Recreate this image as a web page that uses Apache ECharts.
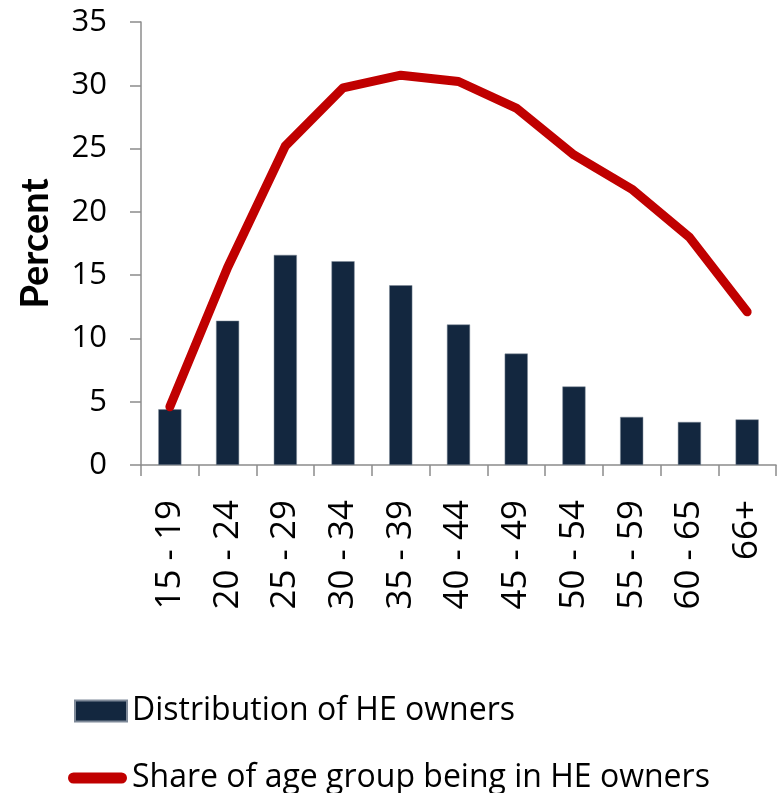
<!DOCTYPE html>
<html>
<head>
<meta charset="utf-8">
<script src="https://cdn.jsdelivr.net/npm/echarts@6/dist/echarts.min.js"></script>
<style>
  html, body { margin: 0; padding: 0; background: #fff; }
  #main { width: 781px; height: 793px; }
</style>
</head>
<body>
<div id="main"></div>
<script>
// age groups on the x axis
const ageGroups = ['15 - 19', '20 - 24', '25 - 29', '30 - 34', '35 - 39', '40 - 44',
  '45 - 49', '50 - 54', '55 - 59', '60 - 65', '66+'];
// bars: distribution of HE owners (%)
const distribution = [4.4, 11.4, 16.6, 16.1, 14.2, 11.1, 8.8, 6.2, 3.8, 3.4, 3.6];
// line: share of age group being in HE owners (%)
const share = [4.6, 15.6, 25.2, 29.8, 30.8, 30.3, 28.2, 24.5, 21.8, 18.0, 12.1];
const yTicks = { min: 0, max: 35, interval: 5 };

const barName = 'Distribution of HE owners';
const lineName = 'Share of age group being in HE owners';

const font = '"Open Sans", sans-serif';
const axisGray = '#8c8c8c';
const barColor = '#13273f';
const lineColor = '#c00000';

const chart = echarts.init(document.getElementById('main'), null, { renderer: 'canvas' });

// two legends so each row gets its own icon size
const legendText = { fontFamily: font, fontSize: 32, color: '#000' };

chart.setOption({
  animation: false,
  backgroundColor: '#ffffff',
  grid: { left: 141, right: 5, top: 22, bottom: 328, containLabel: false, outerBoundsMode: 'none' },
  legend: [
    {
      left: 74,
      top: 695,
      padding: 0,
      itemWidth: 52,
      itemHeight: 21,
      icon: 'rect',
      textStyle: legendText,
      data: [barName]
    },
    {
      left: 68,
      top: 762,
      padding: 0,
      itemWidth: 59,
      itemHeight: 11,
      icon: 'path://M5.5,0H53.5A5.5,5.5,0,0,1,53.5,11H5.5A5.5,5.5,0,0,1,5.5,0Z',
      textStyle: legendText,
      data: [lineName]
    }
  ],
  xAxis: {
    type: 'category',
    data: ageGroups,
    axisLine: { lineStyle: { color: axisGray, width: 1.5 } },
    axisTick: { show: true, length: 11, lineStyle: { color: axisGray, width: 1.5 } },
    axisLabel: {
      rotate: 90,
      interval: 0,
      margin: 35,
      fontFamily: font,
      fontSize: 35,
      color: '#000'
    }
  },
  yAxis: {
    type: 'value',
    min: yTicks.min,
    max: yTicks.max,
    interval: yTicks.interval,
    name: 'Percent',
    nameLocation: 'middle',
    nameGap: 86,
    nameRotate: 90,
    nameTextStyle: { fontFamily: 'Lato, sans-serif', fontSize: 38, fontWeight: 'bold', color: '#000' },
    axisLine: { show: true, lineStyle: { color: axisGray, width: 1.5 } },
    axisTick: { show: true, length: 11, lineStyle: { color: axisGray, width: 1.5 } },
    axisLabel: { margin: 34, fontFamily: font, fontSize: 31, color: '#000' },
    splitLine: { show: false }
  },
  series: [
    {
      name: barName,
      type: 'bar',
      data: distribution,
      barWidth: '40%',
      itemStyle: { color: barColor, borderColor: '#7f8a99', borderWidth: 0.5 }
    },
    {
      name: lineName,
      type: 'line',
      data: share,
      symbol: 'none',
      z: 3,
      itemStyle: { color: lineColor },
      lineStyle: { color: lineColor, width: 9, cap: 'round', join: 'round' }
    }
  ]
});
</script>
</body>
</html>
